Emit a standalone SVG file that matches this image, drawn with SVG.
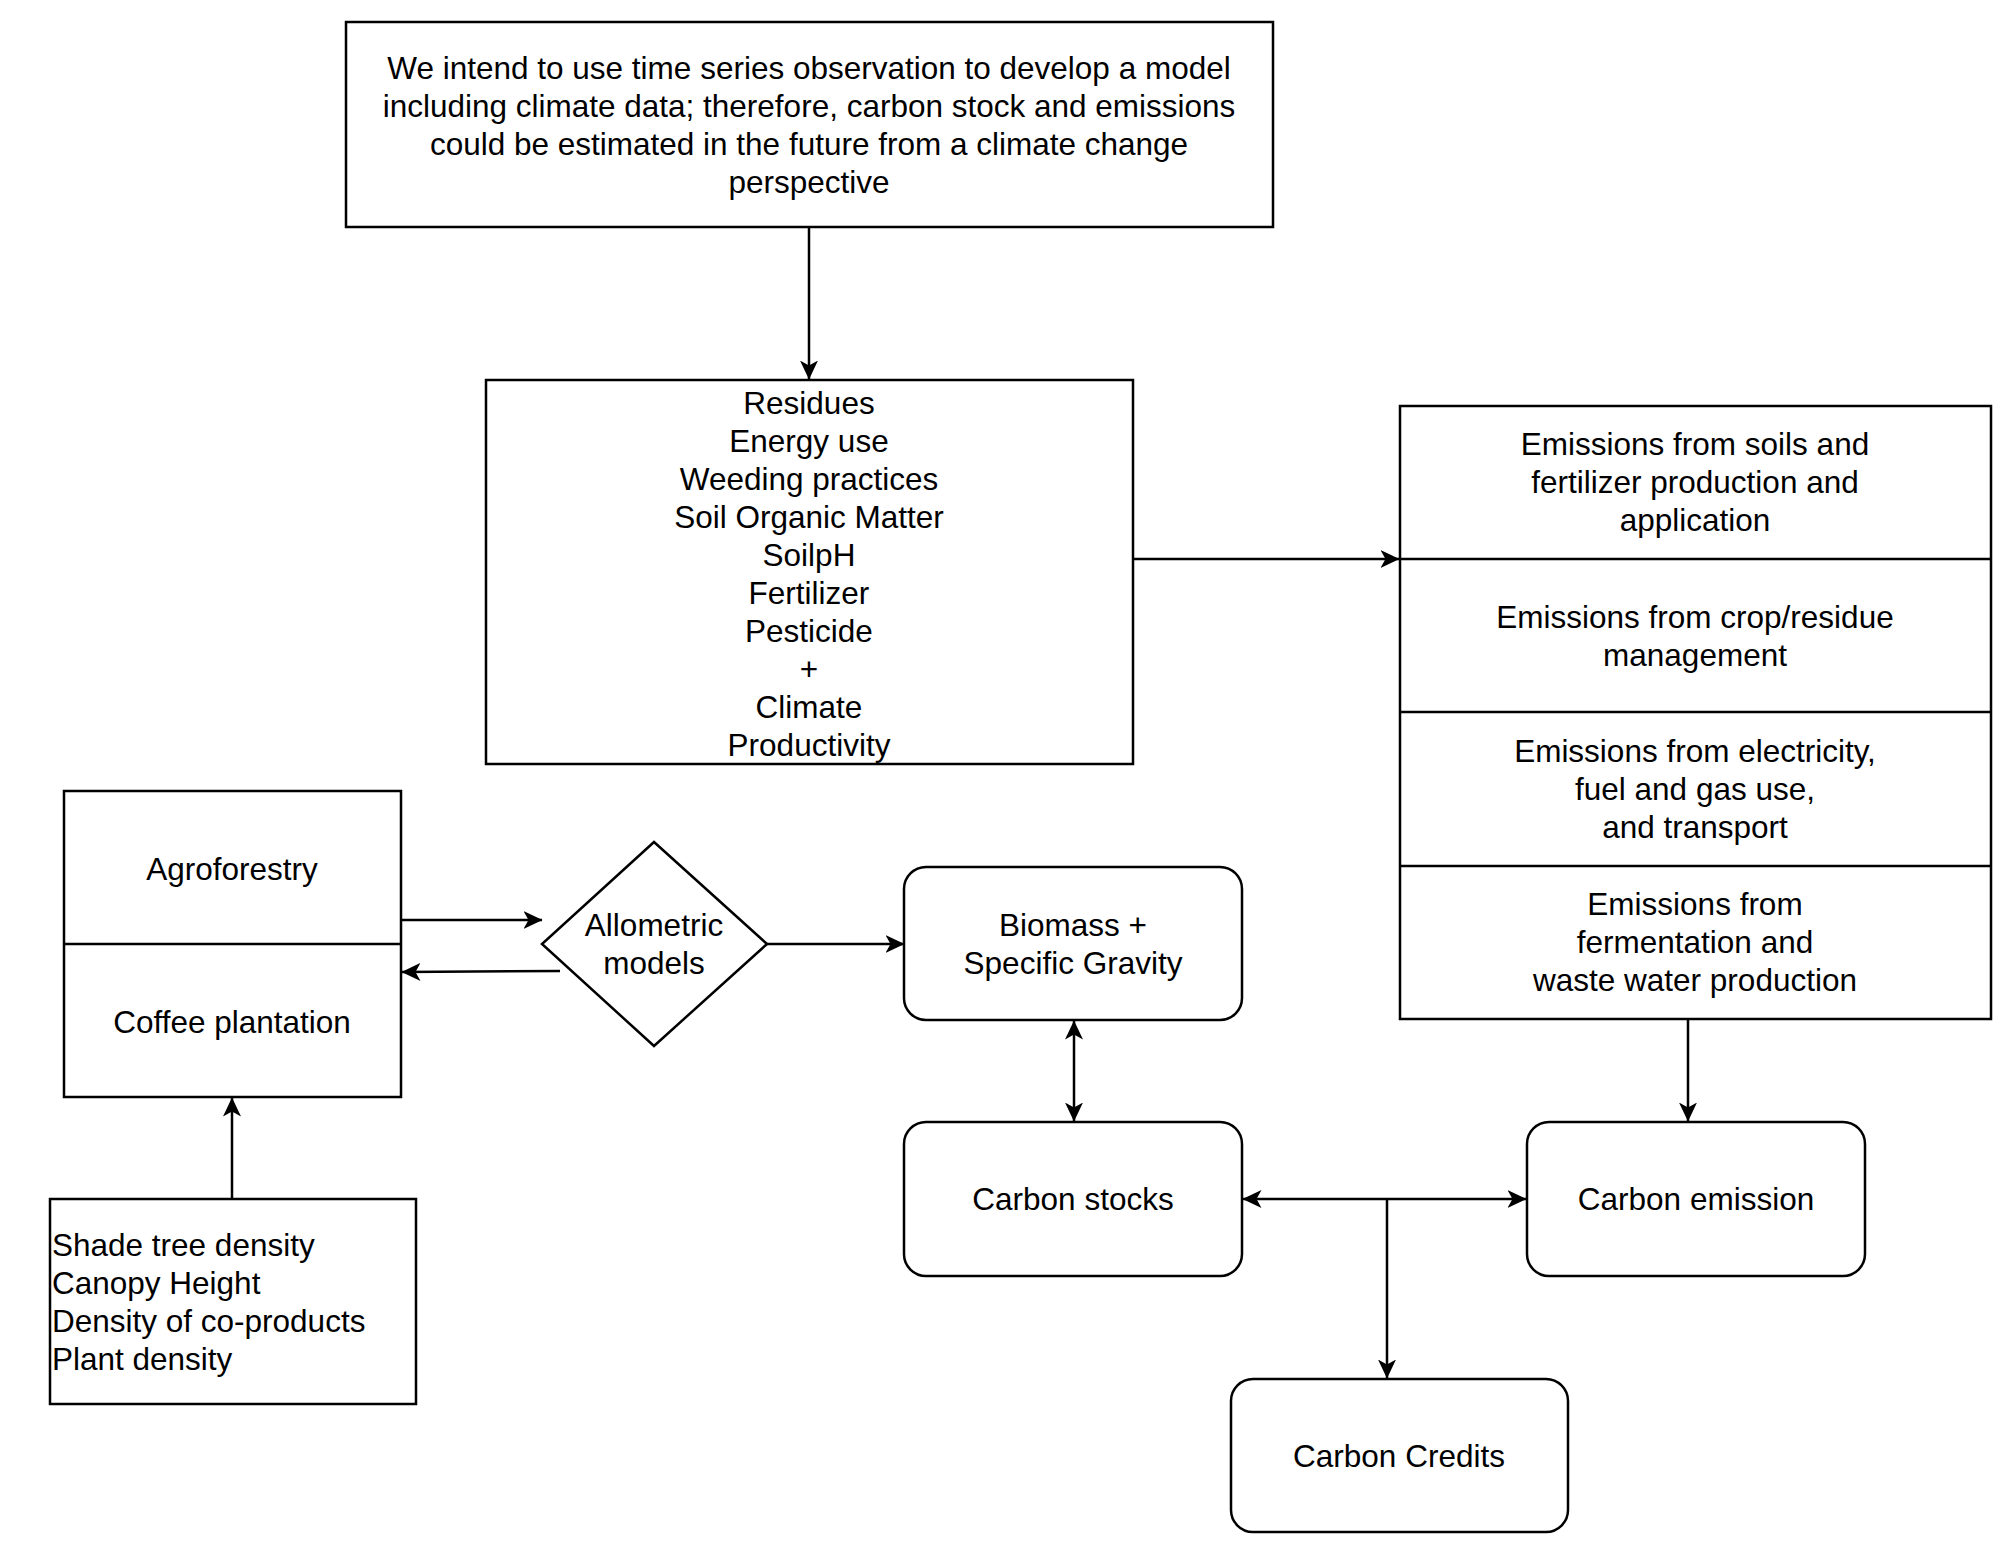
<svg xmlns="http://www.w3.org/2000/svg" width="2000" height="1545" viewBox="0 0 2000 1545">
<style>
.box{fill:#fff;stroke:#000;stroke-width:2.5}
.ln{fill:none;stroke:#000;stroke-width:2.5}
text{font-family:"Liberation Sans",Arial,Helvetica,sans-serif;font-size:31.5px;fill:#000}
.c{text-anchor:middle}
</style>
<defs>
<marker id="arr" markerUnits="userSpaceOnUse" viewBox="0 0 19 18" markerWidth="19" markerHeight="18" refX="18.5" refY="9" orient="auto-start-reverse">
<path d="M0,0 L19,9 L0,18 L5,9 Z" fill="#000"/>
</marker>
</defs>
<rect width="2000" height="1545" fill="#fff"/>
<g id="connectors">
<line class="ln" x1="809" y1="227" x2="809" y2="379" marker-end="url(#arr)"/>
<line class="ln" x1="1133" y1="559" x2="1399" y2="559" marker-end="url(#arr)"/>
<line class="ln" x1="1688" y1="1019" x2="1688" y2="1121" marker-end="url(#arr)"/>
<line class="ln" x1="1074" y1="1021" x2="1074" y2="1121" marker-start="url(#arr)" marker-end="url(#arr)"/>
<line class="ln" x1="1243" y1="1199" x2="1526" y2="1199" marker-start="url(#arr)" marker-end="url(#arr)"/>
<line class="ln" x1="1387" y1="1199" x2="1387" y2="1378" marker-end="url(#arr)"/>
<line class="ln" x1="401" y1="920" x2="542" y2="920" marker-end="url(#arr)"/>
<line class="ln" x1="560" y1="971" x2="402" y2="972" marker-end="url(#arr)"/>
<line class="ln" x1="767" y1="944" x2="904" y2="944" marker-end="url(#arr)"/>
<line class="ln" x1="232" y1="1199" x2="232" y2="1098" marker-end="url(#arr)"/>
</g>
<g id="top-box">
<rect class="box" x="346" y="22" width="927" height="205"/>
<text class="c" x="809" y="79">We intend to use time series observation to develop a model</text>
<text class="c" x="809" y="117">including climate data; therefore, carbon stock and emissions</text>
<text class="c" x="809" y="155">could be estimated in the future from a climate change</text>
<text class="c" x="809" y="193">perspective</text>
</g>
<g id="factors-box">
<rect class="box" x="486" y="380" width="647" height="384"/>
<text class="c" x="809" y="414">Residues</text>
<text class="c" x="809" y="452">Energy use</text>
<text class="c" x="809" y="490">Weeding practices</text>
<text class="c" x="809" y="528">Soil Organic Matter</text>
<text class="c" x="809" y="566">SoilpH</text>
<text class="c" x="809" y="604">Fertilizer</text>
<text class="c" x="809" y="642">Pesticide</text>
<text class="c" x="809" y="680">+</text>
<text class="c" x="809" y="718">Climate</text>
<text class="c" x="809" y="756">Productivity</text>
</g>
<g id="emissions-box">
<rect class="box" x="1400" y="406" width="591" height="613"/>
<line class="ln" x1="1400" y1="559" x2="1991" y2="559"/>
<line class="ln" x1="1400" y1="712" x2="1991" y2="712"/>
<line class="ln" x1="1400" y1="866" x2="1991" y2="866"/>
<text class="c" x="1695" y="455">Emissions from soils and</text>
<text class="c" x="1695" y="493">fertilizer production and</text>
<text class="c" x="1695" y="531">application</text>
<text class="c" x="1695" y="628">Emissions from crop/residue</text>
<text class="c" x="1695" y="666">management</text>
<text class="c" x="1695" y="762">Emissions from electricity,</text>
<text class="c" x="1695" y="800">fuel and gas use,</text>
<text class="c" x="1695" y="838">and transport</text>
<text class="c" x="1695" y="915">Emissions from</text>
<text class="c" x="1695" y="953">fermentation and</text>
<text class="c" x="1695" y="991">waste water production</text>
</g>
<g id="agro-coffee-box">
<rect class="box" x="64" y="791" width="337" height="306"/>
<line class="ln" x1="64" y1="944" x2="401" y2="944"/>
<text class="c" x="232" y="880">Agroforestry</text>
<text class="c" x="232" y="1033">Coffee plantation</text>
</g>
<g id="shade-box">
<rect class="box" x="50" y="1199" width="366" height="205"/>
<text x="52" y="1256">Shade tree density</text>
<text x="52" y="1294">Canopy Height</text>
<text x="52" y="1332">Density of co-products</text>
<text x="52" y="1370">Plant density</text>
</g>
<g id="allometric">
<polygon class="box" points="654,842 767,944 654,1046 542,944"/>
<text class="c" x="654" y="936">Allometric</text>
<text class="c" x="654" y="974">models</text>
</g>
<g id="biomass">
<rect class="box" x="904" y="867" width="338" height="153" rx="22"/>
<text class="c" x="1073" y="936">Biomass +</text>
<text class="c" x="1073" y="974">Specific Gravity</text>
</g>
<g id="carbon-stocks">
<rect class="box" x="904" y="1122" width="338" height="154" rx="22"/>
<text class="c" x="1073" y="1210">Carbon stocks</text>
</g>
<g id="carbon-emission">
<rect class="box" x="1527" y="1122" width="338" height="154" rx="22"/>
<text class="c" x="1696" y="1210">Carbon emission</text>
</g>
<g id="carbon-credits">
<rect class="box" x="1231" y="1379" width="337" height="153" rx="22"/>
<text class="c" x="1399" y="1467">Carbon Credits</text>
</g>
</svg>
